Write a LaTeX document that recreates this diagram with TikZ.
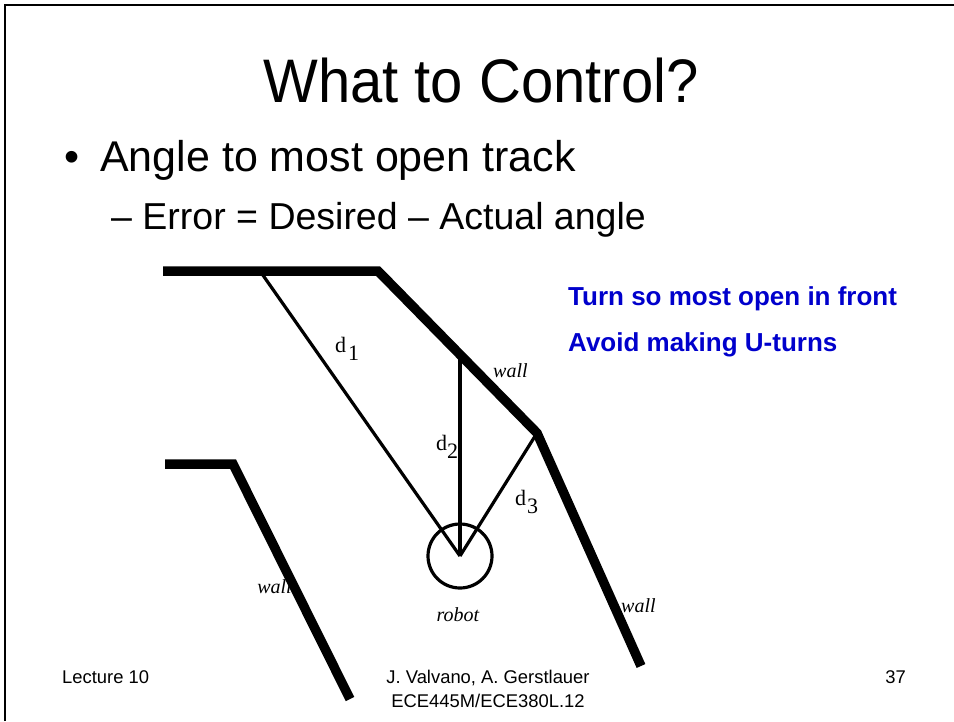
\documentclass[tikz,border=0pt]{standalone}
\usepackage{fontspec}
\setmainfont{Liberation Serif}
\newfontfamily\arialfont{Liberation Sans}
\begin{document}
\begin{tikzpicture}[x=1pt,y=-1pt,
  wallline/.style={line width=9.5pt, line join=miter},
  ray/.style={line width=3.2pt},
  lbl/.style={inner sep=0pt, font=\fontsize{20}{22}\selectfont\itshape},
  dlbl/.style={inner sep=0pt, font=\fontsize{22}{24}\selectfont},
  bluetext/.style={inner sep=0pt, anchor=base west, text=blue!80!black, font=\arialfont\bfseries\fontsize{26}{28}\selectfont},
  foot/.style={inner sep=0pt, font=\arialfont\fontsize{18.4}{20}\selectfont},
 ]
\useasboundingbox (0,0) rectangle (954,721);
\draw[line width=2pt] (5,721) -- (5,5) -- (954,5);

% titles
\node[inner sep=0pt, anchor=base, font=\arialfont\fontsize{58}{60}\selectfont] (title) at (481,102) {\scalebox{1}[1.06]{What to Control?}};
\node[inner sep=0pt, anchor=base, font=\arialfont\fontsize{43}{45}\selectfont] (bul) at (72,171) {•};
\node[inner sep=0pt, anchor=base west, font=\arialfont\fontsize{43}{45}\selectfont] (item1) at (100,171) {Angle to most open track};
\node[inner sep=0pt, anchor=base west, font=\arialfont\fontsize{37.5}{40}\selectfont] (item2) at (111,229) {– Error = Desired – Actual angle};

\node[bluetext] (b1) at (568,305) {Turn so most open in front};
\node[bluetext] (b2) at (568,351) {Avoid making U-turns};

% wall corners
\coordinate (w1) at (163,271);
\coordinate (w2) at (378,271);
\coordinate (w3) at (537,433);
\coordinate (w4) at (641,666);
\coordinate (v1) at (165,464);
\coordinate (v2) at (233,464);
\coordinate (v3) at (350,699);
\coordinate (p1) at (260,271);
\coordinate (p2) at (460,355);

\draw[wallline] (w1) -- (w2) -- (w3) -- (w4);
\draw[wallline] (v1) -- (v2) -- (v3);

\node[draw, circle, line width=3.2pt, minimum size=64pt, inner sep=0pt] (robot) at (460,556) {};
\draw[ray] (p1) -- (robot.center);
\draw[ray] (p2) -- (robot.center);
\draw[ray] (w3) -- (robot.center);

\node[dlbl, anchor=base west] (d1) at (335,352) {d\kern2pt\raisebox{-8pt}{1}};
\node[dlbl, anchor=base west] (d2) at (436,450) {d\kern0pt\raisebox{-8pt}{2}};
\node[dlbl, anchor=base west] (d3) at (515,505) {d\kern1pt\raisebox{-8pt}{3}};

\node[lbl, anchor=base west] (wl1) at (493,377) {wall};
\node[lbl, anchor=base east] (wl2) at (292,593) {wall};
\node[lbl, anchor=base west] (wl3) at (621,612) {wall};
\node[lbl, anchor=base] (rl) at (458,621) {robot};

% footer
\node[foot, anchor=base west] (lec) at (62,683) {Lecture 10};
\node[foot, anchor=base] (auth) at (488,683) {J. Valvano, A. Gerstlauer};
\node[foot, anchor=base] (course) at (488,707) {ECE445M/ECE380L.12};
\node[foot, anchor=base east] (page) at (906,683) {37};
\end{tikzpicture}
\end{document}
